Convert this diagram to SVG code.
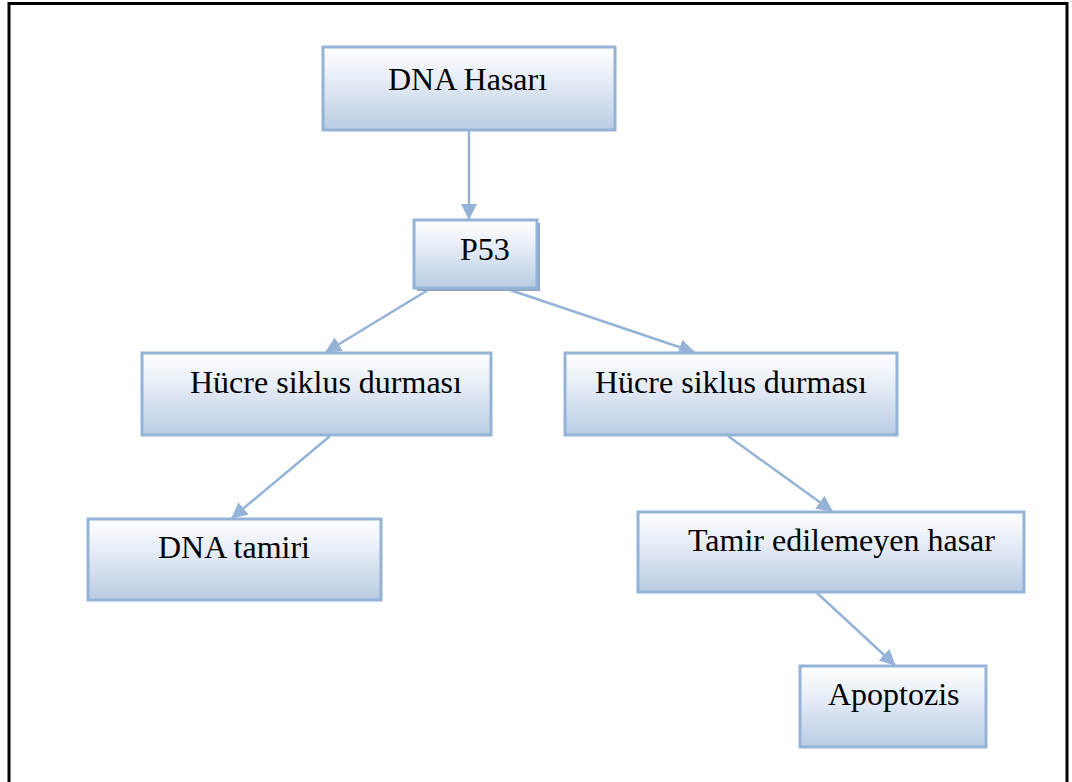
<svg xmlns="http://www.w3.org/2000/svg" width="1072" height="782" viewBox="0 0 1072 782">
<defs>
<linearGradient id="g" x1="0" y1="0" x2="0" y2="1">
<stop offset="0" stop-color="#ffffff"/>
<stop offset="0.35" stop-color="#e9eff7"/>
<stop offset="1" stop-color="#b9cce4"/>
</linearGradient>
<marker id="ah" markerUnits="userSpaceOnUse" markerWidth="16" markerHeight="16" viewBox="0 0 16 16" refX="15" refY="8" orient="auto">
<path d="M0,0 L16,8 L0,16 Z" fill="#95b3d7"/>
</marker>
<style>
.box{fill:url(#g);stroke:#95b3d7;stroke-width:3}
.t{font-family:"Liberation Serif","Times New Roman",serif;font-size:32px;fill:#000}
.c{stroke:#95b3d7;stroke-width:2.5;fill:none;marker-end:url(#ah)}
</style>
</defs>
<rect width="1072" height="782" fill="#fff"/>
<path d="M9,782 V3.5 H1067 V782" fill="none" stroke="#000" stroke-width="3"/>
<g id="connectors">
<line class="c" x1="469" y1="130" x2="469" y2="219"/>
<line class="c" x1="428" y1="290" x2="326" y2="352"/>
<line class="c" x1="510" y1="290" x2="694" y2="352"/>
<line class="c" x1="330" y1="436" x2="232" y2="518"/>
<line class="c" x1="728" y1="436" x2="832" y2="511"/>
<line class="c" x1="817" y1="593" x2="895" y2="665"/>
</g>
<g id="n1"><rect class="box" x="323" y="47" width="292" height="83"/><text class="t" x="388" y="90">DNA Hasarı</text></g>
<g id="n2"><rect x="417" y="223" width="123" height="68" fill="#8ea3bf"/><rect class="box" x="414" y="220" width="123" height="68"/><text class="t" x="460" y="260">P53</text></g>
<g id="n3"><rect class="box" x="142" y="353" width="349" height="82"/><text class="t" x="190" y="393">Hücre siklus durması</text></g>
<g id="n4"><rect class="box" x="565" y="353" width="332" height="82"/><text class="t" x="595" y="393">Hücre siklus durması</text></g>
<g id="n5"><rect class="box" x="88" y="519" width="293" height="81"/><text class="t" x="158" y="558">DNA tamiri</text></g>
<g id="n6"><rect class="box" x="638" y="512" width="386" height="80"/><text class="t" x="688" y="551">Tamir edilemeyen hasar</text></g>
<g id="n7"><rect class="box" x="800" y="666" width="186" height="81"/><text class="t" x="828" y="705">Apoptozis</text></g>
</svg>
